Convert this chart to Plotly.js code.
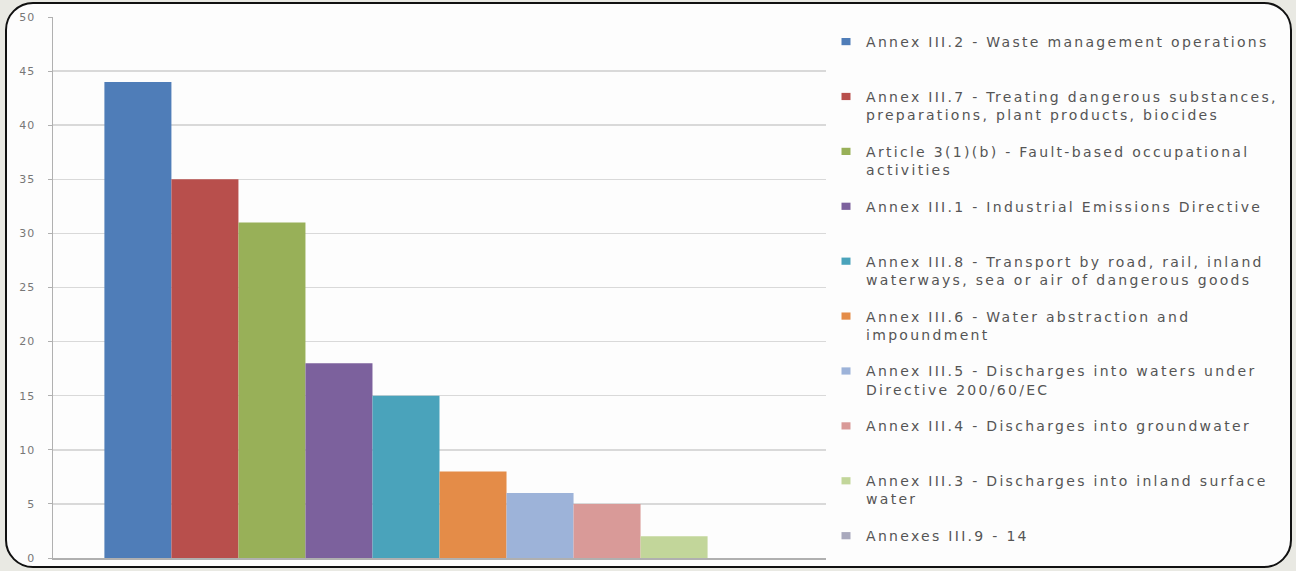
<!DOCTYPE html>
<html>
<head>
<meta charset="utf-8">
<script src="https://cdn.plot.ly/plotly-3.0.1.min.js"></script>
<style>
  html, body { margin: 0; padding: 0; background: #e9e9e3; }
  #frame {
    position: absolute; left: 5px; top: 2px; width: 1287px; height: 566px;
    box-sizing: border-box; border: 2.5px solid #111; border-radius: 28px;
    background: #fdfdfd;
  }
  #chart { position: absolute; left: 0; top: 0; width: 1296px; height: 571px; }
  /* wide, airy lettering for the legend and axis labels */
  .legendtext { letter-spacing: 2.3px; }
  .ytick text { letter-spacing: 1px; }
  /* small flat legend swatches, tucked close to their labels */
  #chart .legendpoints path { transform: translate(20px, 0) scale(0.75, 0.6); }
</style>
</head>
<body>
<div id="frame"></div>
<div id="chart"></div>
<script>
// Number of cases per activity category
const categories = [
  "Annex III.2 - Waste management operations",
  "Annex III.7 - Treating dangerous substances,<br>preparations, plant products, biocides",
  "Article 3(1)(b) - Fault-based occupational<br>activities",
  "Annex III.1 - Industrial Emissions Directive",
  "Annex III.8 - Transport by road, rail, inland<br>waterways, sea or air of dangerous goods",
  "Annex III.6 - Water abstraction and<br>impoundment",
  "Annex III.5 - Discharges into waters under<br>Directive 200/60/EC",
  "Annex III.4 - Discharges into groundwater",
  "Annex III.3 - Discharges into inland surface<br>water",
  "Annexes III.9 - 14"
];
const values = [44, 35, 31, 18, 15, 8, 6, 5, 2, 0];
const colors = ["#4f7db8", "#b84f4c", "#98b058", "#7c619d", "#4aa3bb",
                "#e48c48", "#9db3d9", "#d99a98", "#c2d69a", "#a9a9bd"];
const yTicks = [0, 5, 10, 15, 20, 25, 30, 35, 40, 45, 50];

// Every legend entry takes two lines so the entries sit evenly spaced
const traces = categories.map((name, i) => ({
  type: "bar",
  x: ["All"],
  y: [values[i]],
  name: name.includes("<br>") ? name : name + "<br> ",
  legendgroup: "g" + i,
  marker: { color: colors[i], line: { width: 0 } },
  hoverinfo: "y+name"
}));

const layout = {
  width: 1296,
  height: 571,
  margin: { l: 53, r: 470, t: 17, b: 13, autoexpand: false },
  paper_bgcolor: "rgba(0,0,0,0)",
  plot_bgcolor: "rgba(0,0,0,0)",
  barmode: "group",
  bargap: 0.133,
  bargroupgap: 0,
  showlegend: true,
  legend: {
    xref: "container",
    x: 826 / 1296, xanchor: "left",
    y: 0.9834, yanchor: "top",
    traceorder: "grouped",
    tracegroupgap: 15.5,
    valign: "top",
    bgcolor: "rgba(0,0,0,0)",
    font: { family: "DejaVu Sans", size: 14, color: "#555555" }
  },
  xaxis: {
    showticklabels: false,
    showgrid: false,
    showline: true,
    linecolor: "#b0b0b0",
    linewidth: 1.5,
    ticks: "",
    fixedrange: true
  },
  yaxis: {
    range: [0, 50],
    tickvals: yTicks,
    ticktext: yTicks.map(String),
    showgrid: true,
    gridcolor: "#d9d9d9",
    gridwidth: 1.5,
    showline: true,
    linecolor: "#b0b0b0",
    linewidth: 1.5,
    ticks: "outside",
    ticklen: 4,
    tickcolor: "#b0b0b0",
    ticklabelstandoff: 10,
    zeroline: false,
    tickfont: { family: "DejaVu Sans", size: 11, color: "#777777" },
    fixedrange: true
  }
};

Plotly.newPlot("chart", traces, layout, { displayModeBar: false, staticPlot: true });
</script>
</body>
</html>
